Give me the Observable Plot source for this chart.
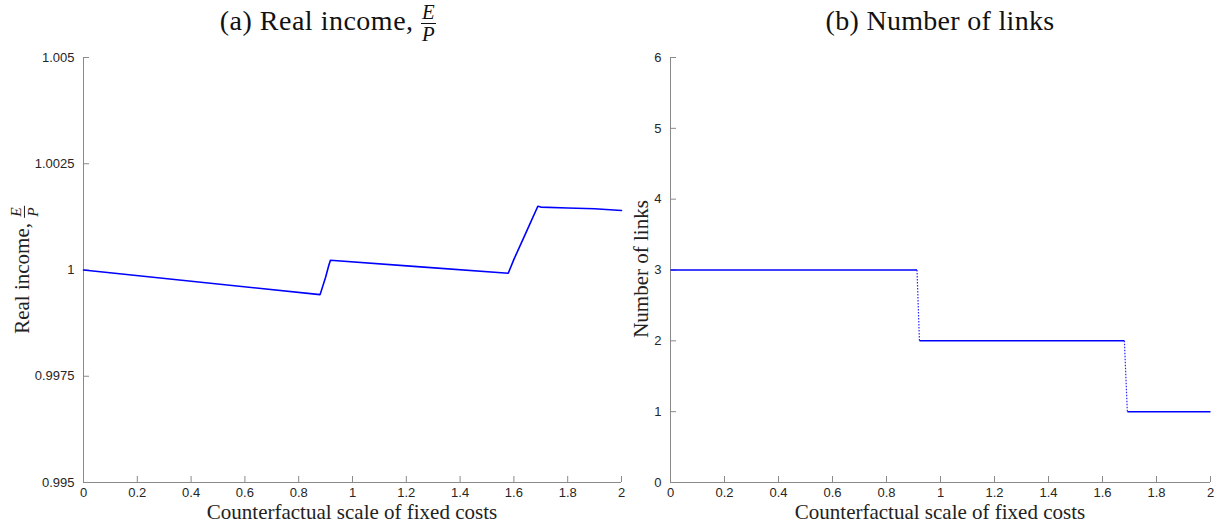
<!DOCTYPE html>
<html><head><meta charset="utf-8">
<script src="https://cdn.jsdelivr.net/npm/d3@7"></script>
<script src="https://cdn.jsdelivr.net/npm/@observablehq/plot@0.6"></script>
<style>
body{margin:0;background:#fff;}
#fig{position:relative;width:1218px;height:529px;overflow:hidden;background:#fff;}
.lbl{position:absolute;white-space:nowrap;z-index:5;font-family:"Liberation Serif","DejaVu Serif",serif;color:#111;}
.title{font-size:28px;text-align:center;width:600px;top:1px;line-height:40px;}
.xl{font-size:21px;text-align:center;width:500px;top:499px;line-height:26px;color:#222;}
.yl{font-size:21px;transform:translate(-50%,-50%) rotate(-90deg);color:#222;}
.frac{display:inline-block;vertical-align:middle;text-align:center;font-style:italic;line-height:1;font-size:0.74em;}
.frac span{display:block;padding:0 1px;}
.frac .den{border-top:1px solid currentColor;}
.plot{position:absolute;top:45px;z-index:1;}
</style></head>
<body>
<div id="fig">
  <div id="left" class="plot" style="left:0px;"></div>
  <div id="right" class="plot" style="left:640px;"></div>
  <div class="lbl title" style="left:28px;letter-spacing:0.5px;">(a) Real income, <span class="frac"><span>E</span><span class="den">P</span></span></div>
  <div class="lbl title" style="left:640px;letter-spacing:0.3px;">(b) Number of links</div>
  <div class="lbl xl" style="left:102px;">Counterfactual scale of fixed costs</div>
  <div class="lbl xl" style="left:690px;">Counterfactual scale of fixed costs</div>
  <div class="lbl yl" style="left:24px;top:270px;">Real income, <span class="frac"><span>E</span><span class="den">P</span></span></div>
  <div class="lbl yl" style="left:641px;top:269px;">Number of links</div>
</div>
<script>
// ---- data ----
const xTicks = [0, 0.2, 0.4, 0.6, 0.8, 1, 1.2, 1.4, 1.6, 1.8, 2];
const xDomain = [0, 2];

const incomeX = [0, 0.879, 0.881, 0.900, 0.912, 0.918, 1.240, 1.579, 1.600, 1.650, 1.689, 1.700, 1.800, 1.900, 2.0];
const incomeY = [1.0, 0.99942, 0.99945, 0.99983, 1.00011, 1.00023, 1.00008, 0.999925, 1.00025, 1.00095, 1.00150, 1.00148, 1.00146, 1.00144, 1.00140];
const incomeTicks = [0.995, 0.9975, 1, 1.0025, 1.005];
const incomeDomain = [0.995, 1.005];

const linksX = [0, 0.913, 0.922, 1.681, 1.692, 2];
const linksY = [3, 3, 2, 2, 1, 1];
const linksTicks = [0, 1, 2, 3, 4, 5, 6];
const linksDomain = [0, 6];

// ---- build ----
const blue = "#0000ff";
const axisGray = "#8a8a8a";
const tickText = "#262626";

function panel(width, marginLeft, marginRight, yDomain, yTicks, marks) {
  return Plot.plot({
    width, height: 484,
    marginLeft, marginRight, marginTop: 12, marginBottom: 47,
    style: {fontFamily: '"Liberation Sans", Arial, sans-serif', fontSize: "13px", background: "white", overflow: "visible"},
    x: {domain: xDomain},
    y: {domain: yDomain},
    marks: [
      Plot.ruleX([xDomain[0]], {stroke: axisGray}),
      Plot.ruleY([yDomain[0]], {stroke: axisGray}),
      Plot.axisX(xTicks, {tickSize: -6, tickPadding: 11, tickFormat: d3.format("~g"), stroke: axisGray, fill: tickText, label: null}),
      Plot.axisY(yTicks, {tickSize: -6, tickPadding: 15, tickFormat: d3.format("~g"), stroke: axisGray, fill: tickText, label: null}),
      ...marks
    ]
  });
}

const income = incomeX.map((x, i) => ({x, y: incomeY[i]}));
document.getElementById("left").append(
  panel(640, 83, 19, incomeDomain, incomeTicks, [
    Plot.line(income, {x: "x", y: "y", stroke: blue, strokeWidth: 1.6})
  ])
);

const segs = d3.pairs(linksX.map((x, i) => ({x, y: linksY[i]})));
const flats = segs.filter(([a, b]) => a.y === b.y);
const drops = segs.filter(([a, b]) => a.y !== b.y);
const seg = {x1: d => d[0].x, y1: d => d[0].y, x2: d => d[1].x, y2: d => d[1].y, stroke: blue};
document.getElementById("right").append(
  panel(578, 30, 8, linksDomain, linksTicks, [
    Plot.link(flats, {...seg, strokeWidth: 1.5}),
    Plot.link(drops, {...seg, strokeWidth: 1.2, strokeDasharray: "1.5,1.5", strokeOpacity: 0.85})
  ])
);
</script>
</body></html>
